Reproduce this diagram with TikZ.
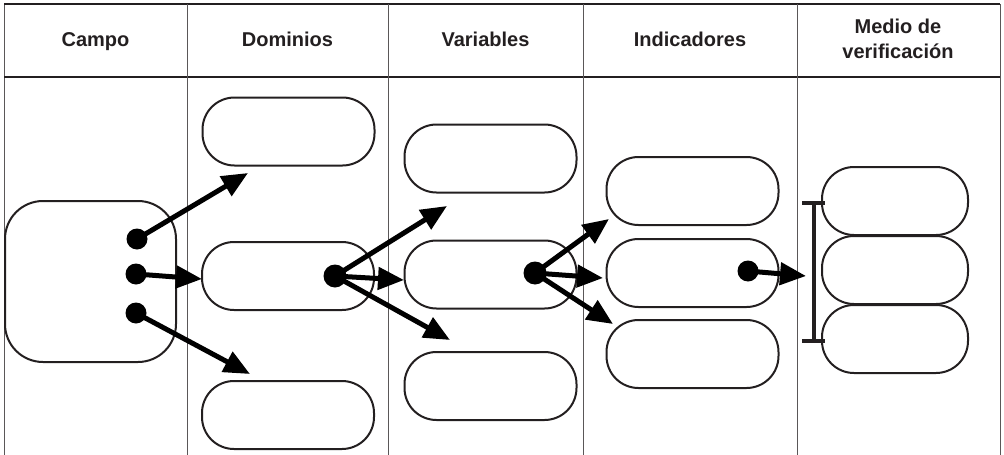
\documentclass[tikz,border=0pt]{standalone}
\usepackage{fontspec}
\setmainfont{Liberation Sans}
\usetikzlibrary{arrows.meta}
\definecolor{ink}{HTML}{231F20}
\begin{document}
\begin{tikzpicture}[x=1pt,y=-1pt,
  rbox/.style={draw=ink,line width=2pt,rounded corners=32pt,minimum width=172pt,minimum height=68pt,inner sep=0pt,outer sep=0pt},
  mbox/.style={rbox,minimum width=146pt},
  dotn/.style={circle,fill=black,inner sep=0pt,minimum size=#1},
  arr/.style={line width=5pt,-{Triangle[length=26pt,width=22pt]},shorten <=2pt},
  hdr/.style={font=\bfseries\fontsize{20}{24}\selectfont,anchor=base,inner sep=0pt,text=ink},
  grid/.style={draw=ink!75,line width=1pt}]
\useasboundingbox (0,0) rectangle (1004,455);
% table
\draw[grid] (4,455) -- (4,4) -- (1000,4) -- (1000,455);
\draw[draw=ink,line width=2pt] (4,4) -- (1000,4);
\draw[draw=ink,line width=2.2pt] (4,77) -- (1000,77);
\foreach \x in {187,388,583,797} \draw[grid] (\x,4) -- (\x,455);
% headers
\node[hdr] (h1) at (95.5,46) {Campo};
\node[hdr] (h2) at (287.5,46) {Dominios};
\node[hdr] (h3) at (485.5,46) {Variables};
\node[hdr] (h4) at (690,46) {Indicadores};
\node[hdr] (h5a) at (898,34) {Medio de};
\node[hdr] (h5b) at (898,58) {verificación};
% boxes
\node[rbox,rounded corners=38pt,minimum width=171pt,minimum height=161pt] (campo) at (90.5,281.5) {};
\node[rbox] (d1) at (288.5,131.5) {};
\node[rbox] (d2) at (288,276) {};
\node[rbox] (d3) at (288,415) {};
\node[rbox] (v1) at (490.5,158.5) {};
\node[rbox] (v2) at (490.5,274.5) {};
\node[rbox] (v3) at (490.5,386) {};
\node[rbox] (i1) at (692.5,191) {};
\node[rbox] (i2) at (692.5,273) {};
\node[rbox] (i3) at (692.5,354) {};
\node[mbox] (m1) at (895,201) {};
\node[mbox] (m2) at (895,270) {};
\node[mbox] (m3) at (895,339) {};
% bracket
\draw[draw=ink,line width=4pt] (802,203) -- (825,203) (814,203) -- (814,341) (802,341) -- (825,341);
% dots
\node[dotn=21pt] (c1) at (137,239) {};
\node[dotn=21pt] (c2) at (136,274) {};
\node[dotn=21pt] (c3) at (136,313) {};
\node[dotn=23pt] (dd) at (335,276) {};
\node[dotn=23pt] (vd) at (535,273) {};
\node[dotn=21pt] (id) at (748,271) {};
% tips
\coordinate (t1) at (248,173);
\coordinate (t2) at (202,279);
\coordinate (t3) at (250,374);
\coordinate (t4) at (447,206);
\coordinate (t5) at (404,280);
\coordinate (t6) at (450,340);
\coordinate (t7) at (609,219);
\coordinate (t8) at (603,278);
\coordinate (t9) at (613,324);
\coordinate (t10) at (806,276);
% arrows
\draw[arr] (c1.center) -- (t1);
\draw[arr] (c2.center) -- (t2);
\draw[arr] (c3.center) -- (t3);
\draw[arr] (dd.center) -- (t4);
\draw[arr] (dd.center) -- (t5);
\draw[arr] (dd.center) -- (t6);
\draw[arr] (vd.center) -- (t7);
\draw[arr] (vd.center) -- (t8);
\draw[arr] (vd.center) -- (t9);
\draw[arr] (id.center) -- (t10);
\end{tikzpicture}
\end{document}
